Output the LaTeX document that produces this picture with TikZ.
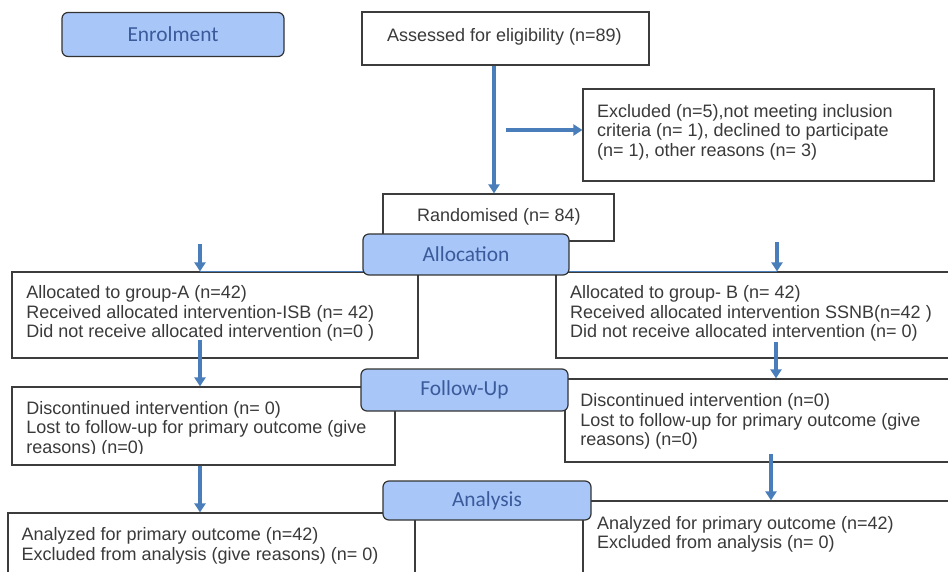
\documentclass[tikz,border=0pt]{standalone}
\usepackage{fontspec}
\setmainfont{Liberation Sans}
\newfontfamily\lblfont{Carlito}
\usetikzlibrary{arrows.meta,fit}
\definecolor{arrowblue}{RGB}{74,126,187}
\definecolor{lblfill}{RGB}{168,198,248}
\definecolor{lbltext}{RGB}{58,90,155}
\definecolor{txtgray}{RGB}{58,58,58}
\definecolor{edgegray}{RGB}{60,60,60}
\newcommand\mylines[1]{\begin{tabular}[t]{@{}l@{}}#1\end{tabular}}
\begin{document}
\begin{tikzpicture}[x=0.5pt,y=-0.5pt,
  box/.style={draw=edgegray, line width=0.6pt, fill=white, inner sep=0pt},
  lbl/.style={draw=black!80, line width=0.6pt, fill=lblfill, rounded corners=3pt, inner sep=0pt, text=lbltext, font=\lblfont\fontsize{10.7}{12}\selectfont},
  txt/.style={anchor=base west, inner sep=0pt, text=txtgray, font=\fontsize{9}{9.75}\selectfont},
  arr/.style={draw=arrowblue, line width=1.7pt, -{Triangle[width=5.5pt,length=4.5pt]}},
  link/.style={draw=arrowblue, line width=0.8pt}
]
\useasboundingbox (0,0) rectangle (948,572);
\clip (0,0) rectangle (948,572);

% text boxes
\node[box, fit={(362,12) (649,65)}] (assessed) {};
\node[box, fit={(583,89) (934,181)}] (excl) {};
\node[box, fit={(383,194) (614,241)}] (rand) {};
\node[box, fit={(12,272) (418,358)}] (ga) {};
\node[box, fit={(556,272) (960,358)}] (gb) {};
\node[box, fit={(12,387) (395,465)}] (fua) {};
\node[box, fit={(565,379) (960,462)}] (fub) {};
\node[box, fit={(8,513) (415,600)}] (ana) {};
\node[box, fit={(583,501) (960,600)}] (anb) {};

% texts
\node[txt] (tassessed) at (386.7,42) {Assessed for eligibility (n=89)};
\node[txt] (texcl) at (596.7,117.3) {\mylines{Excluded (n=5),not meeting inclusion\\criteria (n= 1), declined to participate\\(n= 1), other reasons (n= 3)}};
\node[txt] (trand) at (416.7,222) {Randomised (n= 84)};
\node[txt] (tga) at (26,298.8) {\mylines{Allocated to group-A (n=42)\\Received allocated intervention-ISB (n= 42)\\Did not receive allocated intervention (n=0 )}};
\node[txt] (tgb) at (569.7,298.8) {\mylines{Allocated to group- B (n= 42)\\Received allocated intervention SSNB(n=42 )\\Did not receive allocated intervention (n= 0)}};
\begin{scope}
\clip (12,387) rectangle (395,453.5);
\node[txt] (tfua) at (26,414.3) {\mylines{Discontinued intervention (n= 0)\\Lost to follow-up for primary outcome (give\\reasons) (n=0)}};
\end{scope}
\node[txt] (tfub) at (580,406.7) {\mylines{Discontinued intervention (n=0)\\Lost to follow-up for primary outcome (give\\reasons) (n=0)}};
\node[txt] (tana) at (21.3,540.7) {\mylines{Analyzed for primary outcome (n=42)\\Excluded from analysis (give reasons) (n= 0)}};
\node[txt] (tanb) at (596.7,529.3) {\mylines{Analyzed for primary outcome (n=42)\\Excluded from analysis (n= 0)}};

% connectors
\coordinate (c0) at (494,0);
\draw[arr] (assessed.south -| c0) -- (rand.north -| c0);
\coordinate (exs) at (506,130);
\draw[arr] (exs) -- (excl.west |- exs);
\coordinate (la) at (200,244);
\coordinate (ra) at (777,242);
\draw[link] (la |- ga.north) -- (ra |- gb.north);
\draw[arr] (la) -- (la |- ga.north);
\draw[arr] (ra) -- (ra |- gb.north);
\coordinate (a1) at (200,340);
\draw[arr] (a1) -- (a1 |- fua.north);
\coordinate (b1) at (776,342);
\draw[arr] (b1) -- (b1 |- fub.north);
\draw[arr] (fua.south -| a1) -- (ana.north -| a1);
\coordinate (b2) at (771,454);
\draw[arr] (b2) -- (b2 |- anb.north);

% stage labels
\node[lbl, minimum width=111pt, minimum height=22pt] (enrol) at (173,34.5) {Enrolment};
\node[lbl, minimum width=103pt, minimum height=20.5pt] (alloc) at (466,254.5) {Allocation};
\node[lbl, minimum width=103.5pt, minimum height=21pt] (follow) at (464.5,390) {Follow-Up};
\node[lbl, minimum width=104pt, minimum height=19.5pt] (analysis) at (487,500.5) {Analysis};
\end{tikzpicture}
\end{document}
